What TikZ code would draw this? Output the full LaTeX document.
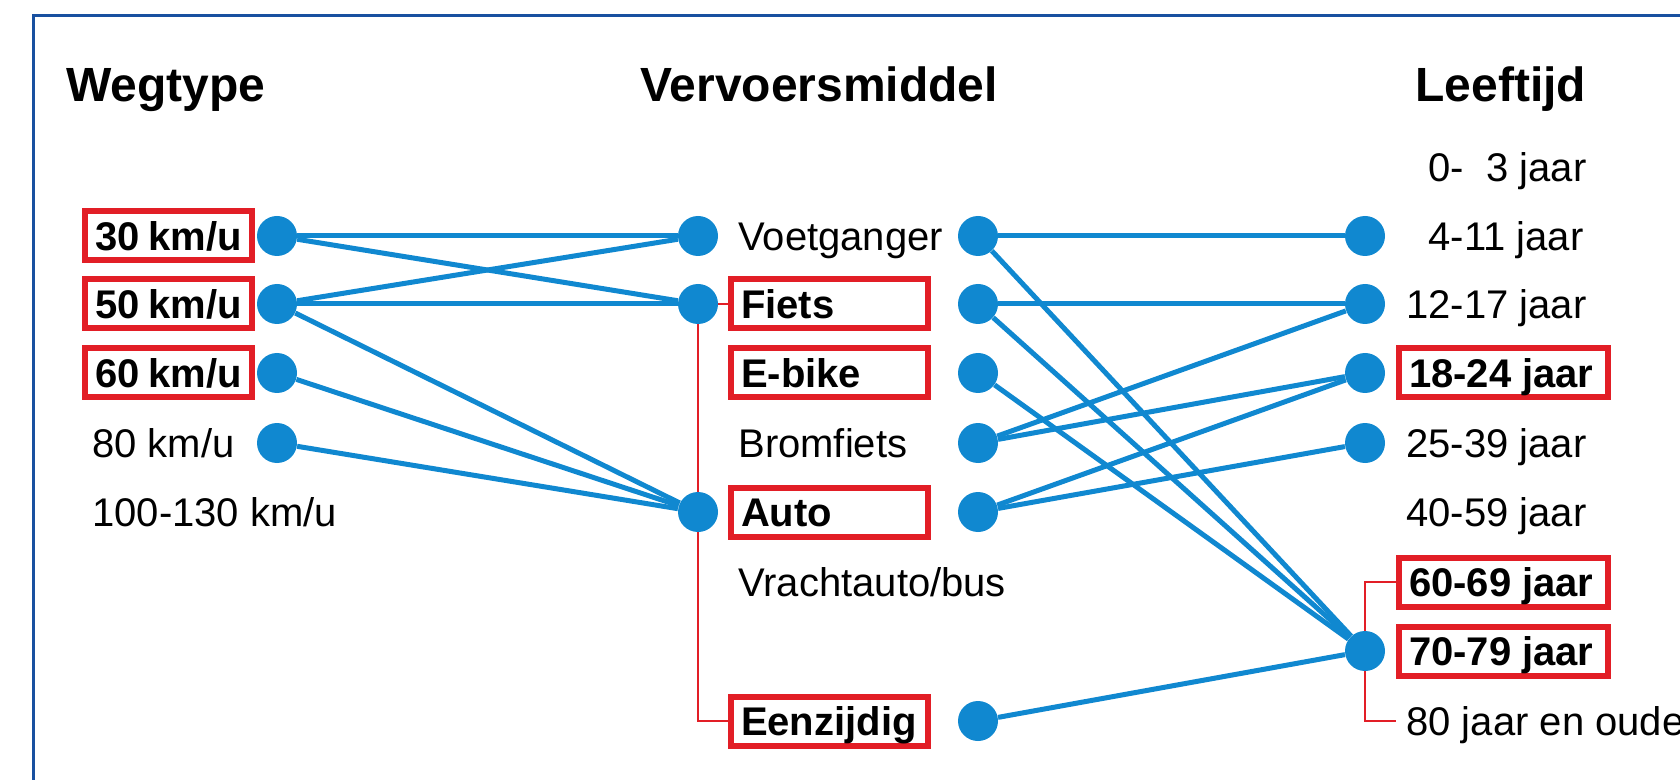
\documentclass[tikz,border=0pt]{standalone}
\usepackage{fontspec}
\setmainfont{Liberation Sans}
\usetikzlibrary{backgrounds}
\definecolor{dotblue}{RGB}{16,136,208}
\definecolor{boxred}{RGB}{226,30,38}
\definecolor{frameblue}{RGB}{24,80,160}
\tikzset{
  lbl/.style={anchor=west, inner xsep=5pt, inner ysep=0pt, minimum height=24.5pt,
    text height=14.3pt, text depth=0pt, font=\fontsize{20}{24}\selectfont},
  redbox/.style={lbl, draw=boxred, line width=3pt,
    font=\bfseries\fontsize{20}{24}\selectfont,
    execute at begin node={\hbox to #1\bgroup}, execute at end node={\hfil\egroup}},
  head/.style={anchor=base west, inner sep=0pt, font=\bfseries\fontsize{24}{28}\selectfont},
  dot/.style={circle, fill=dotblue, minimum size=20pt, inner sep=0pt},
  link/.style={draw=dotblue, line width=2.5pt},
  bracket/.style={draw=boxred, line width=1pt}
}

\begin{document}
\begin{tikzpicture}[x=0.5pt,y=-0.5pt]
\useasboundingbox (0,0) rectangle (1680,780);
\clip (0,0) rectangle (1680,780);
\draw[frameblue, line width=1.5pt] (1700,16) -- (33.5,16) -- (33.5,800);
% kopjes
\node[head] (h1) at (66,102) {Wegtype};
\node[head] (h2) at (640,102) {Vervoersmiddel};
\node[head] (h3) at (1415,102) {Leeftijd};
% wegtype
\node[redbox=73.5pt] (w1) at (82,236) {30 km/u};
\node[redbox=73.5pt] (w2) at (82,304) {50 km/u};
\node[redbox=73.5pt] (w3) at (82,373) {60 km/u};
\node[lbl] (w4) at (82,443) {80 km/u};
\node[lbl] (w5) at (82,512) {100-130 km/u};
\node[dot] (a1) at (277,236) {};
\node[dot] (a2) at (277,304) {};
\node[dot] (a3) at (277,373) {};
\node[dot] (a4) at (277,443) {};
% vervoersmiddel
\node[lbl] (m1) at (728,236) {Voetganger};
\node[redbox=88.5pt] (m2) at (728,304) {Fiets};
\node[redbox=88.5pt] (m3) at (728,373) {E-bike};
\node[lbl] (m4) at (728,443) {Bromfiets};
\node[redbox=88.5pt] (m5) at (728,512) {Auto};
\node[lbl] (m6) at (728,582) {Vrachtauto/bus};
\node[redbox=88.5pt] (m7) at (728,721) {Eenzijdig};
\node[dot] (b1) at (698,236) {};
\node[dot] (b2) at (698,304) {};
\node[dot] (b5) at (698,512) {};
\node[dot] (c1) at (978,236) {};
\node[dot] (c2) at (978,304) {};
\node[dot] (c3) at (978,373) {};
\node[dot] (c4) at (978,443) {};
\node[dot] (c5) at (978,512) {};
\node[dot] (c8) at (978,721) {};
% leeftijd
\node[lbl] (l1) at (1396,167) {\phantom{1}0-\phantom{1}3 jaar};
\node[lbl] (l2) at (1396,236) {\phantom{1}4-11 jaar};
\node[lbl] (l3) at (1396,304) {12-17 jaar};
\node[redbox=94.5pt] (l4) at (1396,373) {18-24 jaar};
\node[lbl] (l5) at (1396,443) {25-39 jaar};
\node[lbl] (l6) at (1396,512) {40-59 jaar};
\node[redbox=94.5pt] (l7) at (1396,582) {60-69 jaar};
\node[redbox=94.5pt] (l8) at (1396,651) {70-79 jaar};
\node[lbl] (l9) at (1396,721) {80 jaar en ouder};
\node[dot] (d2) at (1365,236) {};
\node[dot] (d3) at (1365,304) {};
\node[dot] (d4) at (1365,373) {};
\node[dot] (d5) at (1365,443) {};
\node[dot] (d8) at (1365,651) {};
\begin{pgfonlayer}{background}
\foreach \p/\q in {a1/b1,a1/b2,a2/b1,a2/b2,a2/b5,a3/b5,a4/b5,
  c1/d2,c1/d8,c2/d3,c2/d8,c3/d8,c4/d3,c4/d4,c5/d4,c5/d5,c8/d8}
  \path[link] (\p) -- (\q);
\path[bracket] (m2.west) -- (b2.center) -- (b2.center |- m7.west) -- (m7.west);
\path[bracket] (l7.west) -- (d8.center |- l7.west) -- (d8.center |- l9.west) -- (l9.west);
\end{pgfonlayer}
\end{tikzpicture}
\end{document}
